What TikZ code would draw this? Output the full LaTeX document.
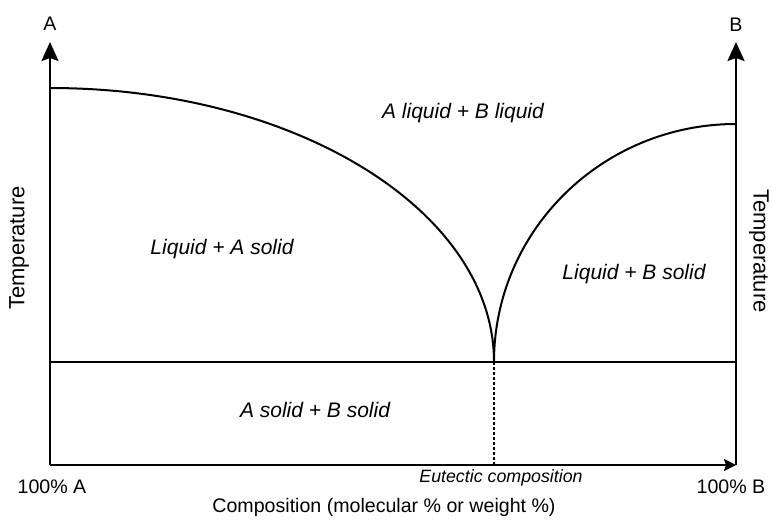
\documentclass[tikz,border=0pt]{standalone}
\usepackage{fontspec}
\setmainfont{Liberation Sans}
\usetikzlibrary{arrows.meta}
\begin{document}
\begin{tikzpicture}[x=1pt,y=-1pt,
  axis/.style={line width=2.2pt},
  tip/.style={-{Stealth[length=19pt,width=17pt,inset=3pt]}},
  smalltip/.style={-{Stealth[length=12pt,width=12pt,inset=2pt]}},
  curve/.style={line width=2pt},
  eline/.style={line width=1.6pt},
  region/.style={font=\fontsize{21}{23}\selectfont\itshape},
  lab/.style={font=\fontsize{19.6}{22}\selectfont},
  tlab/.style={font=\fontsize{22}{24}\selectfont},
  small/.style={font=\fontsize{17.8}{20}\selectfont\itshape}]
\useasboundingbox (0,0) rectangle (772,522);
\coordinate (O) at (50,465);
\coordinate (Atop) at (50,42);
\coordinate (Bbot) at (736,465);
\coordinate (Btop) at (736,42);
\coordinate (EL) at (50,362);
\coordinate (ER) at (736,362);
\coordinate (E) at (494,362);
\coordinate (Ebot) at (494,465);
\coordinate (Astart) at (50,88);
\coordinate (Bstart) at (736,124);
% axes
\draw[axis,tip] (O) -- (Atop);
\draw[axis,tip] (Bbot) -- (Btop);
\draw[axis,smalltip] (O) -- (Bbot);
% eutectic line
\draw[eline] (EL) -- (ER);
\draw[line width=1.1pt,dashed,dash pattern=on 3pt off 2pt] (E) -- (Ebot);
% liquidus curves
\draw[curve] (Astart) arc[start angle=-90,end angle=0,x radius=444,y radius=274];
\draw[curve] (Bstart) arc[start angle=-90,end angle=-180,x radius=242,y radius=238];
% labels
\node[lab] (la) at (50,24) {A};
\node[lab] (lb) at (736,25) {B};
\node[lab] (pa) at (52,487) {100\% A};
\node[lab] (pb) at (731,487) {100\% B};
\node[lab] (comp) at (384,507) {Composition (molecular \% or weight \%)};
\node[tlab,rotate=90] (tl) at (19,248) {Temperature};
\node[tlab,rotate=-90] (tr) at (759,251) {Temperature};
\node[small] (eu) at (501,478) {Eutectic composition};
\node[region] (r1) at (463,113) {A liquid + B liquid};
\node[region] (r2) at (222,249) {Liquid + A solid};
\node[region] (r3) at (634,274) {Liquid + B solid};
\node[region] (r4) at (315,410) {A solid + B solid};
\end{tikzpicture}
\end{document}
